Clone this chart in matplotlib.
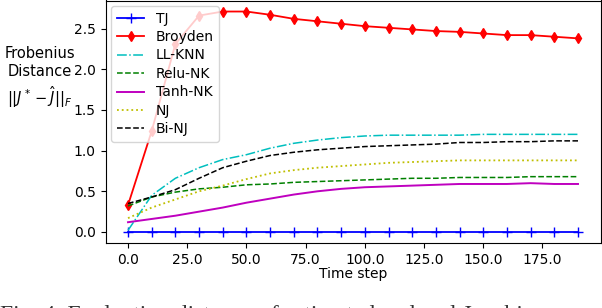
import matplotlib
matplotlib.use("Agg")
import matplotlib.pyplot as plt
import numpy as np
from matplotlib.ticker import FormatStrFormatter

# ---- data ----
steps = [0, 10, 20, 30, 40, 50, 60, 70, 80, 90, 100, 110, 120, 130, 140, 150, 160, 170, 180, 190]
tj = [0.0] * 20
broyden = [0.33, 1.24, 2.31, 2.66, 2.71, 2.71, 2.67, 2.62, 2.59, 2.56, 2.53, 2.51, 2.49, 2.47,
           2.46, 2.44, 2.42, 2.42, 2.40, 2.38]
ll_knn = [0.02, 0.45, 0.66, 0.79, 0.89, 0.95, 1.03, 1.09, 1.13, 1.16, 1.18, 1.19, 1.19, 1.19,
          1.19, 1.20, 1.20, 1.20, 1.20, 1.20]
relu_nk = [0.32, 0.43, 0.49, 0.53, 0.55, 0.58, 0.59, 0.61, 0.62, 0.63, 0.64, 0.65, 0.66, 0.66,
           0.67, 0.67, 0.67, 0.68, 0.68, 0.68]
tanh_nk = [0.12, 0.16, 0.20, 0.25, 0.30, 0.36, 0.41, 0.46, 0.50, 0.53, 0.55, 0.56, 0.57, 0.58,
           0.59, 0.59, 0.59, 0.60, 0.59, 0.59]
nj = [0.17, 0.30, 0.40, 0.50, 0.57, 0.65, 0.72, 0.76, 0.79, 0.81, 0.83, 0.85, 0.86, 0.87,
      0.88, 0.88, 0.88, 0.88, 0.88, 0.88]
bi_nj = [0.35, 0.43, 0.52, 0.66, 0.79, 0.87, 0.94, 0.98, 1.01, 1.03, 1.05, 1.06, 1.07, 1.08,
         1.10, 1.10, 1.11, 1.11, 1.12, 1.12]

labels = ["TJ", "Broyden", "LL-KNN", "Relu-NK", "Tanh-NK", "NJ", "Bi-NJ"]
ylabel = "Frobenius\nDistance\n$||J^* - \\hat{J}||_F$"
xlabel = "Time step"
caption = "Fig. 4: Evaluation distance of estimated and real Jacobian"

plt.rcParams["font.family"] = ["DejaVu Sans"]
FS = 10

fig = plt.figure(figsize=(6.02, 3.08), dpi=100)
ax = fig.add_axes([105.5 / 602, 1 - 243 / 308, (600.5 - 105.5) / 602, 242.5 / 308])

ax.plot(steps, tj, color="blue", marker="+", markersize=7, lw=1.3, label=labels[0])
ax.plot(steps, broyden, color="red", marker="d", markersize=5.5, lw=1.3, label=labels[1])
ax.plot(steps, ll_knn, color="c", ls="-.", lw=1.1, label=labels[2])
ax.plot(steps, relu_nk, color="green", ls="--", lw=1.1, label=labels[3])
ax.plot(steps, tanh_nk, color="m", ls="-", lw=1.4, label=labels[4])
ax.plot(steps, nj, color="y", ls=":", lw=1.3, label=labels[5])
ax.plot(steps, bi_nj, color="black", ls="--", lw=1.1, label=labels[6])

ax.set_xticks([0, 25, 50, 75, 100, 125, 150, 175])
ax.set_yticks([0.0, 0.5, 1.0, 1.5, 2.0, 2.5])
ax.xaxis.set_major_formatter(FormatStrFormatter("%.1f"))
ax.yaxis.set_major_formatter(FormatStrFormatter("%.1f"))
ax.tick_params(labelsize=FS)
ax.set_xlabel(xlabel, fontsize=FS, labelpad=0)

fig.text(40 / 602, 1 - 78 / 308, ylabel, ha="center", va="center", fontsize=10.5,
         linespacing=1.25)

ax.legend(loc="upper left", fontsize=FS, handlelength=2.0, labelspacing=0.32,
          borderaxespad=0.4, borderpad=0.4, framealpha=0.8)

fig.text(0.0, 1 - 321.0 / 308, caption, ha="left", va="baseline", fontsize=17,
         family="Liberation Serif", color="#333333")

fig.savefig("out.png", dpi=100)
